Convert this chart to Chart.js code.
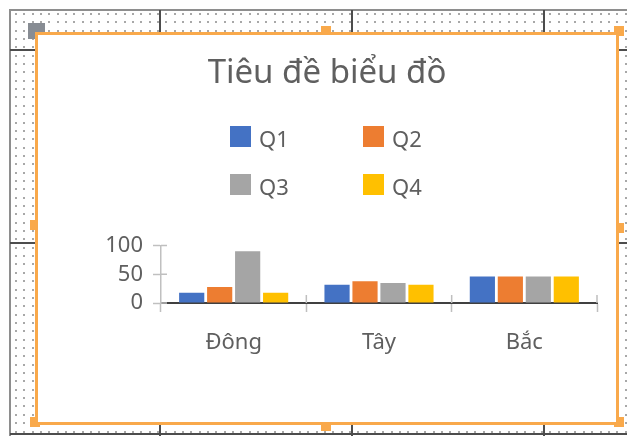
<!DOCTYPE html>
<html>
<head>
<meta charset="utf-8">
<script src="https://cdn.jsdelivr.net/npm/chart.js@4.4.1/dist/chart.umd.min.js"></script>
<style>
  html, body { margin: 0; padding: 0; background: #fff; }
  body { width: 627px; height: 436px; position: relative; overflow: hidden; font-family: 'Noto Sans', sans-serif; }
  #sheet { position: absolute; left: 0; top: 0; }
  #frame { position: absolute; left: 35px; top: 32px; width: 584px; height: 393px; box-sizing: border-box; border: 3px solid #f9a94b; background: #fff; }
  #frame canvas { display: block; }
  #legend { position: absolute; left: 230px; top: 126px; display: grid; grid-template-columns: 133px 133px; grid-auto-rows: 48px; }
  .item { display: flex; align-items: baseline; align-self: start; color: #5f5f5f; font-size: 22px; line-height: 22px; }
  .swatch { display: inline-block; width: 21px; height: 21px; margin-right: 8px; }
</style>
</head>
<body>
<canvas id="sheet" width="627" height="436"></canvas>
<div id="frame"><canvas id="chart" width="578" height="387"></canvas></div>
<div id="legend"></div>
<script>
// Sales by region, per quarter
const categories = ['Đông', 'Tây', 'Bắc'];
const seriesNames = ['Q1', 'Q2', 'Q3', 'Q4'];
const q1 = [18, 32, 46];
const q2 = [28, 38, 46];
const q3 = [90, 35, 46];
const q4 = [18, 32, 46];
const seriesColors = ['#4472C4', '#ED7D31', '#A5A5A5', '#FFC000'];
const yTicks = [0, 50, 100];

const textGray = '#5f5f5f';
const fontFamily = "'Noto Sans', sans-serif";

// Worksheet behind the chart: dotted cells, cell borders, selection handles
function drawSheet() {
    const ctx = document.getElementById('sheet').getContext('2d');
    ctx.fillStyle = '#fff';
    ctx.fillRect(0, 0, 627, 436);

    const pitch = 8.35;
    ctx.fillStyle = '#a8a8a8';
    for (let y = 13; y < 432; y += pitch) {
        for (let x = 15; x < 627; x += pitch) {
            ctx.fillRect(Math.round(x), Math.round(y), 2, 2);
        }
    }

    // outer border
    ctx.fillStyle = '#8e8e8e';
    ctx.fillRect(10, 9, 617, 2);
    ctx.fillRect(9, 9, 2, 427);

    // cell lines
    ctx.fillStyle = '#4d4d4d';
    [160, 352, 544].forEach(x => ctx.fillRect(x - 1, 10, 2, 426));
    [50, 243].forEach(y => ctx.fillRect(10, y - 1, 617, 2));
    ctx.fillRect(10, 433, 617, 2);

    // corner block
    ctx.fillStyle = '#878c93';
    ctx.fillRect(28, 23, 17, 16);

    // resize handles
    ctx.fillStyle = '#f9a94b';
    [[321, 26], [614, 26], [614, 223], [614, 417], [321, 421], [30, 417], [30, 220]]
        .forEach(([x, y]) => ctx.fillRect(x, y, 10, 10));
}

// Excel-style cross tick marks: inner half of each tick
const crossTicks = {
    id: 'crossTicks',
    afterDraw(chart) {
        const { ctx, chartArea, scales: { x, y } } = chart;
        ctx.save();
        ctx.lineWidth = 1.5;
        ctx.strokeStyle = '#bfbfbf';
        ctx.beginPath();
        for (let i = 1; i <= categories.length; i++) {
            const px = x.getPixelForValue(i - 0.5);
            ctx.moveTo(px, chartArea.bottom - 8);
            ctx.lineTo(px, chartArea.bottom);
        }
        yTicks.forEach(v => {
            const py = y.getPixelForValue(v);
            ctx.moveTo(chartArea.left, py);
            ctx.lineTo(chartArea.left + 6, py);
        });
        ctx.stroke();
        ctx.restore();
    }
};

const seriesData = [q1, q2, q3, q4];

const chart = new Chart(document.getElementById('chart'), {
    type: 'bar',
    data: {
        labels: categories,
        datasets: seriesNames.map((name, i) => ({
            label: name,
            data: seriesData[i],
            backgroundColor: seriesColors[i],
            categoryPercentage: 0.77,
            barPercentage: 0.9
        }))
    },
    options: {
        responsive: false,
        animation: false,
        // equal side padding keeps the title centred on the canvas
        layout: { padding: { left: 19, right: 19, top: 0, bottom: 0 } },
        plugins: {
            legend: { display: false },
            tooltip: { enabled: false },
            title: {
                display: true,
                text: 'Tiêu đề biểu đồ',
                color: textGray,
                font: { family: fontFamily, size: 33, weight: 'normal' },
                padding: { top: 19, bottom: 152 }
            }
        },
        scales: {
            x: {
                grid: { drawOnChartArea: false, offset: true, tickLength: 9, tickColor: '#bfbfbf', tickWidth: 1.5 },
                border: { color: '#404040', width: 2 },
                ticks: { color: textGray, font: { family: fontFamily, size: 22 }, padding: 18 },
                afterFit: s => { s.height = 119; }
            },
            y: {
                min: 0,
                max: 100,
                afterBuildTicks: s => { s.ticks = yTicks.map(v => ({ value: v })); },
                grid: { drawOnChartArea: false, tickLength: 8, tickColor: '#c0c0c0', tickWidth: 1.5 },
                border: { color: '#c0c0c0', width: 1.5 },
                ticks: { color: textGray, font: { family: fontFamily, size: 22 }, padding: 10, autoSkip: false },
                afterFit: s => { s.width = 104; }
            }
        }
    },
    plugins: [crossTicks]
});

// Two-column legend built from the chart's own legend items
function buildLegend() {
    const box = document.getElementById('legend');
    const items = chart.options.plugins.legend.labels.generateLabels(chart);
    items.forEach(item => {
        const el = document.createElement('div');
        el.className = 'item';
        const sw = document.createElement('span');
        sw.className = 'swatch';
        sw.style.background = item.fillStyle;
        const txt = document.createElement('span');
        txt.textContent = item.text;
        el.appendChild(sw);
        el.appendChild(txt);
        box.appendChild(el);
    });
}

drawSheet();
buildLegend();
</script>
</body>
</html>
